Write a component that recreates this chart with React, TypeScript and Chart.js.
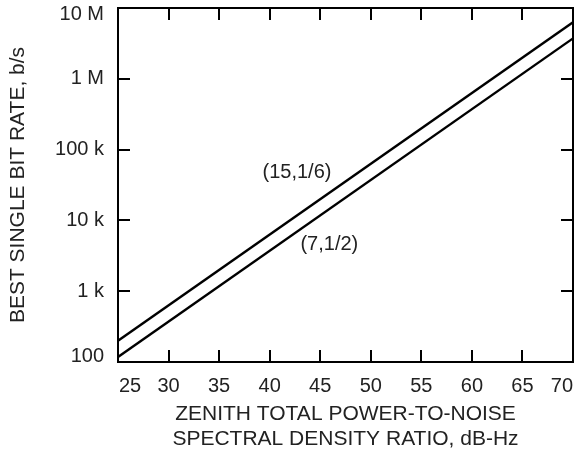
import React, { useEffect, useRef } from "react";
import { Chart, registerables } from "chart.js";

Chart.register(...registerables);

// Zenith total power-to-noise spectral density ratio, dB-Hz
const snrDbHz = [25, 70];
// Best single bit rate, b/s, for each code (constraint length, rate)
const rateCode15x16 = [200, 6.3e6];
const rateCode7x12 = [118, 3.72e6];

const xTickValues = [25, 30, 35, 40, 45, 50, 55, 60, 65, 70];
const yTickValues = [100, 1e3, 1e4, 1e5, 1e6, 1e7];
const yTickLabels = ["100", "1 k", "10 k", "100 k", "1 M", "10 M"];

const curveNames = ["(15,1/6)", "(7,1/2)"];
const curveNameX = [42.7, 45.9];
const curveNameY = [46800, 4500];

const FONT = "'Liberation Sans', Arial, Helvetica, sans-serif";
const TEXT = "#222";

// Boxed frame with inward ticks on all four sides, tick labels kept
// inside the frame's extent, and the curve names.
const framePlugin = {
  id: "frameAndTicks",
  afterDraw(chart: any) {
    const { ctx, chartArea } = chart;
    const xs = chart.scales.x;
    const ys = chart.scales.y;
    const { left, right, top, bottom } = chartArea;
    const tick = 12;
    ctx.save();
    ctx.strokeStyle = "#000";
    ctx.lineWidth = 2;
    ctx.beginPath();
    for (const v of xTickValues) {
      const px = Math.round(xs.getPixelForValue(v));
      if (px <= left + 2 || px >= right - 2) continue;
      ctx.moveTo(px, bottom);
      ctx.lineTo(px, bottom - tick);
      ctx.moveTo(px, top);
      ctx.lineTo(px, top + tick);
    }
    for (const v of yTickValues) {
      const py = Math.round(ys.getPixelForValue(v));
      if (py <= top + 2 || py >= bottom - 2) continue;
      ctx.moveTo(left, py);
      ctx.lineTo(left + tick, py);
      ctx.moveTo(right, py);
      ctx.lineTo(right - tick, py);
    }
    ctx.stroke();
    ctx.strokeRect(left, top, right - left, bottom - top);

    ctx.fillStyle = TEXT;
    ctx.font = `20px ${FONT}`;
    ctx.textBaseline = "middle";

    // y tick labels
    ctx.textAlign = "right";
    yTickValues.forEach((v, i) => {
      const py = ys.getPixelForValue(v);
      const y = Math.min(Math.max(py, top + 6), bottom - 6);
      ctx.fillText(yTickLabels[i], left - 14, y);
    });

    // x tick labels
    ctx.textAlign = "center";
    xTickValues.forEach((v) => {
      const label = String(v);
      const w = ctx.measureText(label).width;
      const px = xs.getPixelForValue(v);
      const x = Math.min(Math.max(px, left + w / 2 + 1), right - w / 2);
      ctx.fillText(label, x, bottom + 24);
    });

    // curve names
    curveNames.forEach((name, i) => {
      ctx.fillText(
        name,
        xs.getPixelForValue(curveNameX[i]),
        ys.getPixelForValue(curveNameY[i])
      );
    });
    ctx.restore();
  },
};

export default function App() {
  const canvasRef = useRef<HTMLCanvasElement | null>(null);

  useEffect(() => {
    document.body.style.margin = "0";
    const canvas = canvasRef.current;
    if (!canvas) return;
    const chart = new Chart(canvas, {
      type: "line",
      data: {
        datasets: [
          {
            label: curveNames[0],
            data: snrDbHz.map((x, i) => ({ x, y: rateCode15x16[i] })),
            borderColor: "#000",
            borderWidth: 2.4,
            pointRadius: 0,
          },
          {
            label: curveNames[1],
            data: snrDbHz.map((x, i) => ({ x, y: rateCode7x12[i] })),
            borderColor: "#000",
            borderWidth: 2.4,
            pointRadius: 0,
          },
        ],
      },
      options: {
        responsive: false,
        animation: false,
        layout: { padding: { top: 8, right: 4, bottom: 0, left: 0 } },
        plugins: {
          legend: { display: false },
          tooltip: { enabled: false },
        },
        scales: {
          x: {
            type: "linear",
            min: 25,
            max: 70,
            grid: { display: false, drawTicks: false },
            border: { display: false },
            afterBuildTicks: (s: any) => {
              s.ticks = xTickValues.map((v) => ({ value: v }));
            },
            afterFit: (s: any) => {
              s.height = 461 - 362;
            },
            ticks: { display: false },
            title: {
              display: true,
              text: ["ZENITH TOTAL POWER-TO-NOISE", "SPECTRAL DENSITY RATIO, dB-Hz"],
              color: TEXT,
              font: { family: FONT, size: 21 },
              padding: { top: 0, bottom: 9 },
            },
          },
          y: {
            type: "logarithmic",
            min: 100,
            max: 1e7,
            grid: { display: false, drawTicks: false },
            border: { display: false },
            afterBuildTicks: (s: any) => {
              s.ticks = yTickValues.map((v) => ({ value: v }));
            },
            afterFit: (s: any) => {
              s.width = 118;
            },
            ticks: { display: false },
            title: {
              display: true,
              text: "BEST SINGLE BIT RATE, b/s",
              color: TEXT,
              font: { family: FONT, size: 21 },
              padding: { top: 6, bottom: 0 },
            },
          },
        },
      },
      plugins: [framePlugin],
    });
    return () => chart.destroy();
  }, []);

  return (
    <div style={{ width: 577, height: 461 }}>
      <canvas ref={canvasRef} width={577} height={461} />
    </div>
  );
}
